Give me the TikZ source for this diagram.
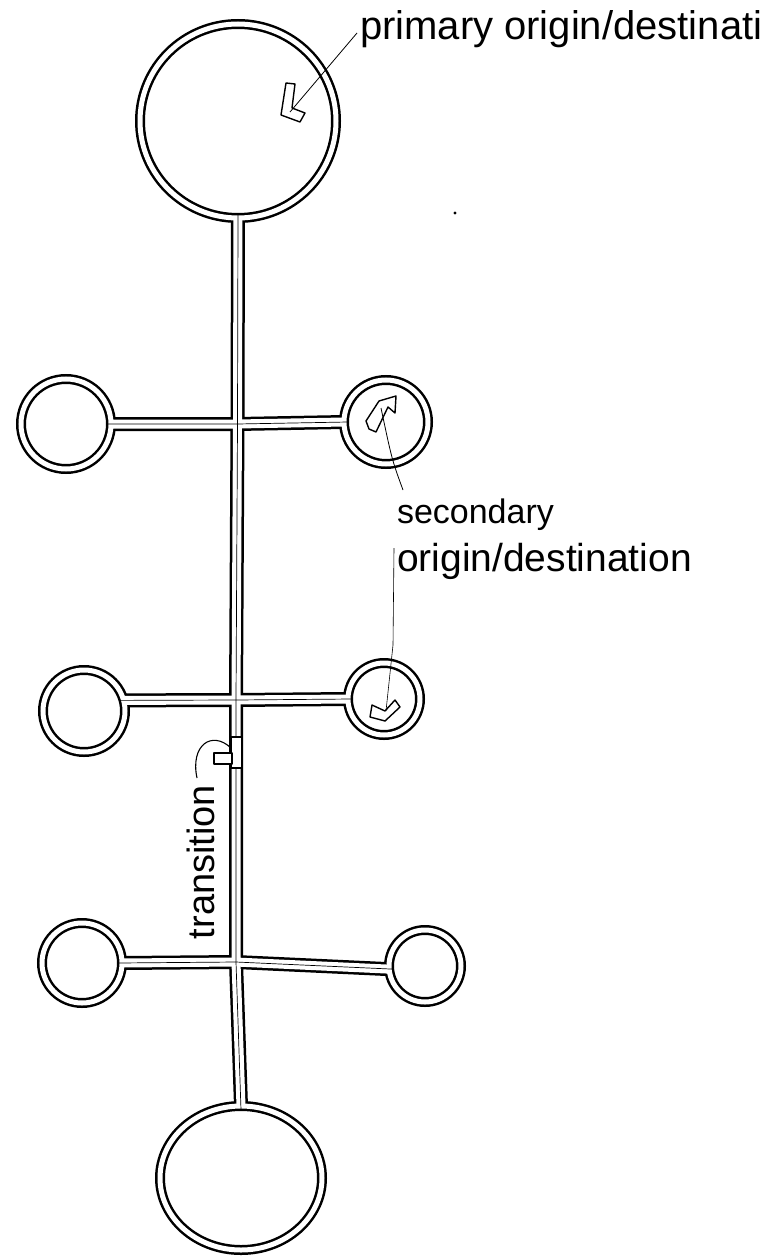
\documentclass[tikz,border=0pt]{standalone}
\usepackage{fontspec}
\setmainfont{Liberation Sans}
\usetikzlibrary{shapes.geometric,calc}
\tikzset{
  ringout/.style={line width=10pt, black},
  ringin/.style={line width=5pt, white},
  roadout/.style={line width=14pt, black, line join=round},
  roadin/.style={line width=9pt, white, line join=round},
  midline/.style={line width=0.7pt, black, line join=round},
  hub/.style={circle, minimum size=#1, inner sep=0pt, outer sep=0pt},
  bighub/.style={ellipse, inner sep=0pt, outer sep=0pt},
  arrowmark/.style={draw, line width=1.4pt, fill=white, line join=round},
  leader/.style={line width=0.8pt, black},
  lbl/.style={inner sep=0pt, outer sep=0pt},
}
\begin{document}
\begin{tikzpicture}[x=1pt,y=1pt]
\useasboundingbox (0,0) rectangle (762,-1257);
% hubs
\node[bighub, minimum width=196pt, minimum height=194pt] (T) at (238,-121) {};
\node[bighub, minimum width=162pt, minimum height=144pt] (B) at (241,-1178) {};
\node[hub=90pt] (L1) at (66,-424) {};
\node[hub=84pt] (R1) at (386,-422) {};
\node[hub=82pt] (L2) at (84,-711) {};
\node[hub=72pt] (R2) at (384,-699) {};
\node[hub=80pt] (L3) at (82,-963) {};
\node[hub=72pt] (R3) at (425,-966) {};
% junctions
\coordinate (J1) at (237.5,-424);
\coordinate (J2) at (236,-700);
\coordinate (J3) at (236,-962);
% black layer
\foreach \n/\r in {L1/45pt,R1/42pt,L2/41pt,R2/36pt,L3/40pt,R3/36pt}
  \draw[ringout] (\n.center) circle[radius=\r];
\draw[ringout] (T.center) ellipse[x radius=98pt, y radius=97pt];
\draw[ringout] (B.center) ellipse[x radius=81pt, y radius=72pt];
\draw[roadout] (T.south) -- (J1) -- (J2) -- (J3) -- (B.north);
\draw[roadout] (L1.east) -- (J1) -- (R1.west);
\draw[roadout] (L2.15) -- (J2) -- (R2.west);
\draw[roadout] (L3.east) -- (J3) -- (R3.185);
% white layer
\foreach \n/\r in {L1/45pt,R1/42pt,L2/41pt,R2/36pt,L3/40pt,R3/36pt}
  \draw[ringin] (\n.center) circle[radius=\r];
\draw[ringin] (T.center) ellipse[x radius=98pt, y radius=97pt];
\draw[ringin] (B.center) ellipse[x radius=81pt, y radius=72pt];
\draw[roadin] (T.south) -- (J1) -- (J2) -- (J3) -- (B.north);
\draw[roadin] (L1.east) -- (J1) -- (R1.west);
\draw[roadin] (L2.15) -- (J2) -- (R2.west);
\draw[roadin] (L3.east) -- (J3) -- (R3.185);
% centre lines
\draw[midline] ($(T.south)+(0,4)$) -- (J1) -- (J2) -- (J3) -- ($(B.north)+(0,-4)$);
\draw[midline] ($(L1.east)+(-4,0)$) -- (J1) -- ($(R1.west)+(4,0)$);
\draw[midline] ($(L2.15)+(-4,0)$) -- (J2) -- ($(R2.west)+(4,0)$);
\draw[midline] ($(L3.east)+(-4,0)$) -- (J3) -- ($(R3.185)+(4,0)$);
% direction marks
\draw[arrowmark] (286,-83) -- (295,-84) -- (292,-108) -- (305,-113) -- (300,-122) -- (281,-115) -- cycle;
\coordinate (a0) at (290,-112);
\draw[arrowmark] (366,-421) -- (379,-401) -- (396,-396) -- (395,-413) -- (388,-407) -- (376,-432) -- (369,-429) -- cycle;
\coordinate (a1) at (381,-408);
\draw[arrowmark] (372,-705) -- (385,-711) -- (395,-700) -- (400,-707) -- (385,-721) -- (370,-717) -- cycle;
\coordinate (a2) at (386,-711);
\draw[arrowmark, line width=2pt] (231,-737) rectangle (242,-768);
\draw[arrowmark, line width=2pt] (214,-753) rectangle (232,-764);
\coordinate (tm) at (231,-748);
% labels
\node[lbl, anchor=base west, font=\fontsize{40pt}{42pt}\selectfont] (P) at (360,-40) {primary origin/destination};
\node[lbl, anchor=base west, font=\fontsize{34pt}{36pt}\selectfont] (S1) at (397,-523) {secondary};
\node[lbl, anchor=base west, font=\fontsize{39pt}{41pt}\selectfont] (S2) at (397,-571) {origin/destination};
\node[lbl, anchor=base, rotate=90, font=\fontsize{38pt}{40pt}\selectfont] (Tr) at (214,-862) {transition};
% leaders
\coordinate (pl) at (357,-33);
\draw[leader] (pl) -- (a0);
\coordinate (sl1) at (403,-490);
\draw[leader] (sl1) .. controls (392,-460) .. (a1);
\coordinate (sl2) at (394,-548);
\draw[leader, line width=0.6pt] (sl2) -- (393,-645) -- (a2);
\coordinate (tl) at (197,-778);
\draw[leader, line width=1.1pt] (tl) .. controls (190,-745) and (212,-730) .. (tm);
% stray dot
\fill (455,-213) circle[radius=1.6pt];
\end{tikzpicture}
\end{document}
